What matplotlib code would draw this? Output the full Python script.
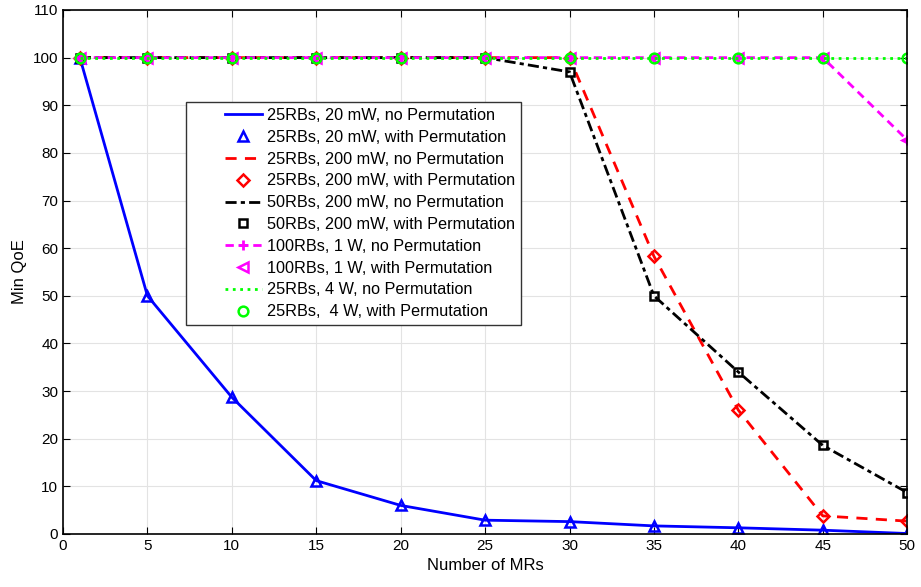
import matplotlib as mpl
from matplotlib import pyplot as plt
from matplotlib.legend_handler import HandlerLine2D
import numpy as np

mpl.rcParams['font.family'] = ['Liberation Sans', 'DejaVu Sans']
mpl.rcParams['font.size'] = 11

# Данные
mrs = [1, 5, 10, 15, 20, 25, 30, 35, 40, 45, 50]
qoe_25rb_20mw = [100, 50, 28.7, 11.2, 6.0, 2.9, 2.6, 1.7, 1.3, 0.8, 0.1]
qoe_25rb_200mw = [100, 100, 100, 100, 100, 100, 100, 58.3, 26.0, 3.8, 2.7]
qoe_50rb_200mw = [100, 100, 100, 100, 100, 100, 97.0, 50.0, 34.0, 18.6, 8.7]
qoe_100rb_1w = [100, 100, 100, 100, 100, 100, 100, 100, 100, 100, 82.7]
qoe_25rb_4w = [100, 100, 100, 100, 100, 100, 100, 100, 100, 100, 100]


# Значок легенды в правой части, как в MATLAB
class RightHandler(HandlerLine2D):
    def get_xdata(self, legend, xdescent, ydescent, width, height, fontsize):
        frac = 0.52
        x0 = -xdescent + width * (1 - frac)
        x1 = -xdescent + width
        return np.array([x0, x1]), np.array([(x0 + x1) / 2])


fig = plt.figure(figsize=(9.21, 5.87), dpi=100)
ax = fig.add_axes([0.0684, 0.0903, 0.9166, 0.8927])

lw = 2
mk = dict(fillstyle='none', markeredgewidth=1.8, linestyle='none')

ax.plot(mrs, qoe_25rb_20mw, '-', color='#0000ff', lw=lw, label='25RBs, 20 mW, no Permutation')
ax.plot(mrs, qoe_25rb_20mw, '^', color='#0000ff', markersize=7, label='25RBs, 20 mW, with Permutation', **mk)
ax.plot(mrs, qoe_25rb_200mw, '--', color='#ff0000', lw=lw, dashes=(4, 3), label='25RBs, 200 mW, no Permutation')
ax.plot(mrs, qoe_25rb_200mw, 'D', color='#ff0000', markersize=6, label='25RBs, 200 mW, with Permutation', **mk)
ax.plot(mrs, qoe_50rb_200mw, '-.', color='black', lw=lw, dashes=(4, 1.5, 1.5, 1.5), label='50RBs, 200 mW, no Permutation')
ax.plot(mrs, qoe_50rb_200mw, 's', color='black', markersize=6, label='50RBs, 200 mW, with Permutation', **mk)
ax.plot(mrs, qoe_100rb_1w, '--', color='#ff00ff', lw=lw, dashes=(3, 2), marker='+', markersize=7,
        markeredgewidth=2, label='100RBs, 1 W, no Permutation')
ax.plot(mrs, qoe_100rb_1w, '<', color='#ff00ff', markersize=7, label='100RBs, 1 W, with Permutation', **mk)
ax.plot(mrs, qoe_25rb_4w, ':', color='#00ff00', lw=lw, label='25RBs, 4 W, no Permutation')
ax.plot(mrs, qoe_25rb_4w, 'o', color='#00ff00', markersize=7, label='25RBs,  4 W, with Permutation', **mk)

ax.set_xlim(0, 50)
ax.set_ylim(0, 110)
ax.set_xticks(np.arange(0, 51, 5))
ax.set_yticks(np.arange(0, 111, 10))
ax.grid(True, color='#e3e3e3', linewidth=0.8)
ax.set_axisbelow(True)
ax.tick_params(direction='in', top=True, right=True, length=5, labelsize=11)
for s in ax.spines.values():
    s.set_linewidth(1.2)

ax.set_xlabel('Number of MRs', fontsize=12)
ax.set_ylabel('Min QoE', fontsize=12)

# Легенда
leg = ax.legend(loc='upper left', bbox_to_anchor=(0.1457, 0.824), fontsize=11.7,
                fancybox=False, framealpha=1, edgecolor='#333333', handlelength=4.3,
                borderpad=0.35, labelspacing=0.42, handletextpad=0.36, borderaxespad=0,
                handler_map={mpl.lines.Line2D: RightHandler(numpoints=1)})
leg.get_frame().set_linewidth(1.0)

plt.savefig('out.png', dpi=100)
